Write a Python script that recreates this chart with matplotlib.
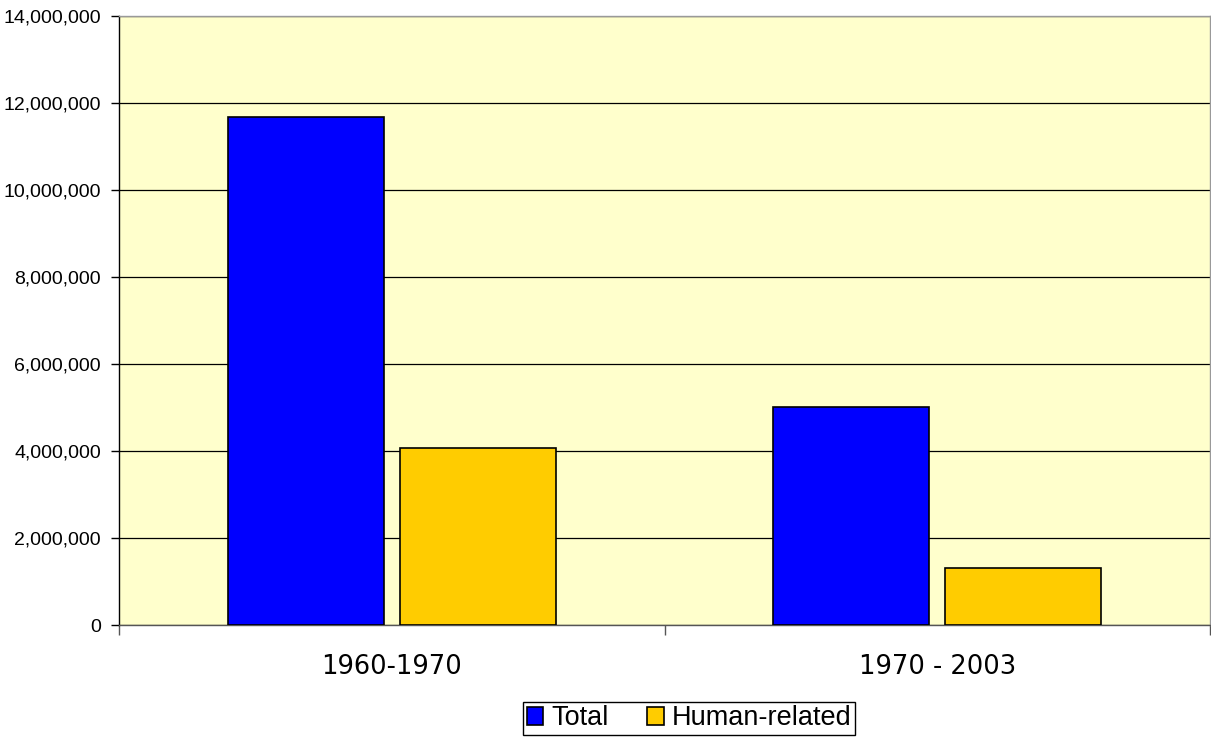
import matplotlib.pyplot as plt
import matplotlib.ticker as mticker
import numpy as np

periods = ['1960-1970', '1970 - 2003']
total = [11680000, 5010000]
human = [4070000, 1310000]

fig = plt.figure(figsize=(12.11, 7.38), dpi=100)
ax = fig.add_axes([0.0983, 0.1531, 0.9009, 0.8252])
ax.set_facecolor('#FFFFCC')

x = np.arange(len(periods))
w = 0.2857
off = 0.1575
ax.bar(x - off, total, w, color='#0000FF', edgecolor='black', linewidth=1.2,
       label='Total', zorder=3)
ax.bar(x + off, human, w, color='#FFCC00', edgecolor='black', linewidth=1.2,
       label='Human-related', zorder=3)

ax.set_xlim(-0.5, 1.5)
ax.set_ylim(0, 14000000)
ax.set_yticks(np.arange(0, 14000001, 2000000))
ax.yaxis.set_major_formatter(mticker.FuncFormatter(lambda v, p: f'{int(v):,}'))
ax.grid(axis='y', color='black', linewidth=0.9, zorder=1)

ax.set_xticks(x)
ax.set_xticklabels(periods, fontsize=18.5, family='DejaVu Sans')
ax.set_xticks([-0.5, 0.5, 1.5], minor=True)
ax.tick_params(axis='x', which='major', length=0, pad=21)
ax.tick_params(axis='x', which='minor', length=7, color='#555555', width=1)
ax.tick_params(axis='y', length=6, width=1, pad=7)
for lbl in ax.get_yticklabels():
    lbl.set_family('Liberation Sans')
    lbl.set_fontsize(14)

ax.spines['left'].set_color('black')
ax.spines['bottom'].set_color('#555555')
ax.spines['top'].set_color('#999999')
ax.spines['right'].set_color('#999999')
for s in ax.spines.values():
    s.set_linewidth(1)

leg = fig.legend(loc='center', bbox_to_anchor=(0.569, 0.0265), ncol=2,
                 prop={'family': 'Liberation Sans', 'size': 19.5},
                 fancybox=False, edgecolor='black', framealpha=1,
                 handlelength=0.62, handleheight=0.62, handletextpad=0.3,
                 columnspacing=1.4, borderpad=0.12, borderaxespad=0)
leg.get_frame().set_linewidth(1)

fig.savefig('out.png', dpi=100)
